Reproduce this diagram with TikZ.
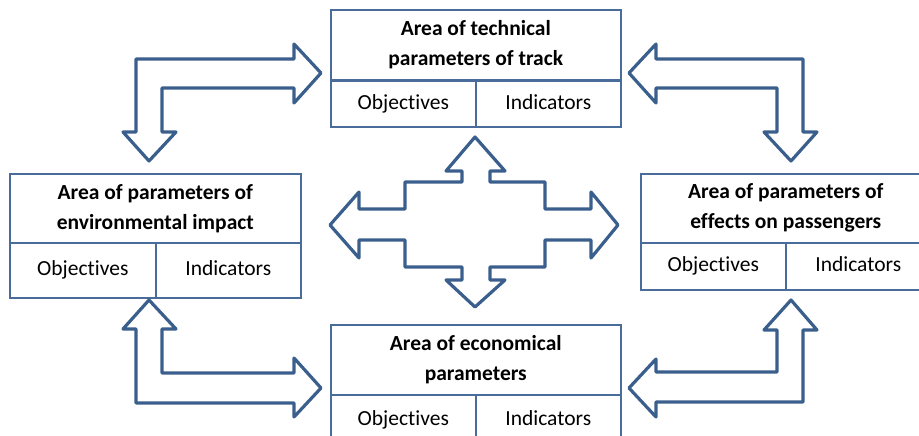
\documentclass[tikz,border=0pt]{standalone}
\usepackage{fontspec}
\setmainfont{Carlito}[Ligatures=NoCommon]
\usepackage{tikz}

\definecolor{arrowblue}{HTML}{3B5F8C}
\definecolor{boxblue}{HTML}{4A6C9B}

\begin{document}
\begin{tikzpicture}[
		x=1pt, y=-1pt,
		every node/.style={draw=boxblue, line width=1.6pt, rectangle, anchor=north west, inner sep=0pt},
		area/.style={minimum width=290pt, minimum height=70pt, align=center, font=\fontsize{21.5}{30}\selectfont\bfseries},
		cell/.style={minimum width=145pt, minimum height=#1, text height=15pt, text depth=4pt, font=\fontsize{21.5}{24}\selectfont},
		blockarrow/.style={draw=arrowblue, line width=3.2pt, line join=round}
	]
  \useasboundingbox (0,0) rectangle (919,436);
  \clip (0,0) rectangle (919,436);
  % top
  \node (track) [area] at (330,9) {Area of technical\\parameters of track};
  \node (track_o) [cell=46pt] at (330,80) {Objectives};
  \node (track_i) [cell=46pt] at (475,80) {Indicators};
  % left
  \node (env) [area, minimum width=291pt, minimum height=69pt] at (9,173) {Area of parameters of\\environmental impact};
  \node (env_o) [cell=55pt, minimum width=146pt] at (9,242) {Objectives};
  \node (env_i) [cell=55pt] at (155,242) {Indicators};
  % right
  \node (pass) [area, minimum height=69pt] at (640,173) {Area of parameters of\\effects on passengers};
  \node (pass_o) [cell=47pt] at (640,242) {Objectives};
  \node (pass_i) [cell=47pt] at (785,242) {Indicators};
  % bottom
  \node (econ) [area] at (330,324) {Area of economical\\parameters};
  \node (econ_o) [cell=50pt] at (330,394) {Objectives};
  \node (econ_i) [cell=50pt] at (475,394) {Indicators};

  \draw [blockarrow] (294,59) -- (136,59) -- (136,132) -- (123,132) -- (149,161) -- (176,132) -- (162,132)
    -- (162,88) -- (294,88) -- (294,103) -- (321,73) -- (294,44) -- cycle;
  \draw [blockarrow] (656,59) -- (803,59) -- (803,132) -- (817,132) -- (791,161) -- (764,132) -- (777,132)
    -- (777,88) -- (656,88) -- (656,103) -- (629,73) -- (656,44) -- cycle;
  \draw [blockarrow] (149,300) -- (176,329) -- (162,329) -- (162,373) -- (294,373) -- (294,358) -- (321,388)
    -- (294,417) -- (294,403) -- (136,403) -- (136,329) -- (123,329) -- cycle;
  \draw [blockarrow] (791,300) -- (817,330) -- (803,330) -- (803,402) -- (656,402) -- (656,417) -- (629,388)
    -- (656,359) -- (656,372) -- (777,372) -- (777,330) -- (764,330) -- cycle;
  % centre
  \draw [blockarrow] (475,137) -- (505,171) -- (490,171) -- (490,182) -- (545,182) -- (545,209) -- (591,209)
    -- (591,192) -- (618,225) -- (591,258) -- (591,240) -- (545,240) -- (545,267) -- (490,267) -- (490,280)
    -- (505,280) -- (475,307) -- (446,280) -- (462,280) -- (462,267) -- (405,267) -- (405,240) -- (359,240)
    -- (359,258) -- (330,225) -- (359,192) -- (359,209) -- (405,209) -- (405,182) -- (462,182) -- (462,171)
    -- (446,171) -- cycle;
\end{tikzpicture}
\end{document}
